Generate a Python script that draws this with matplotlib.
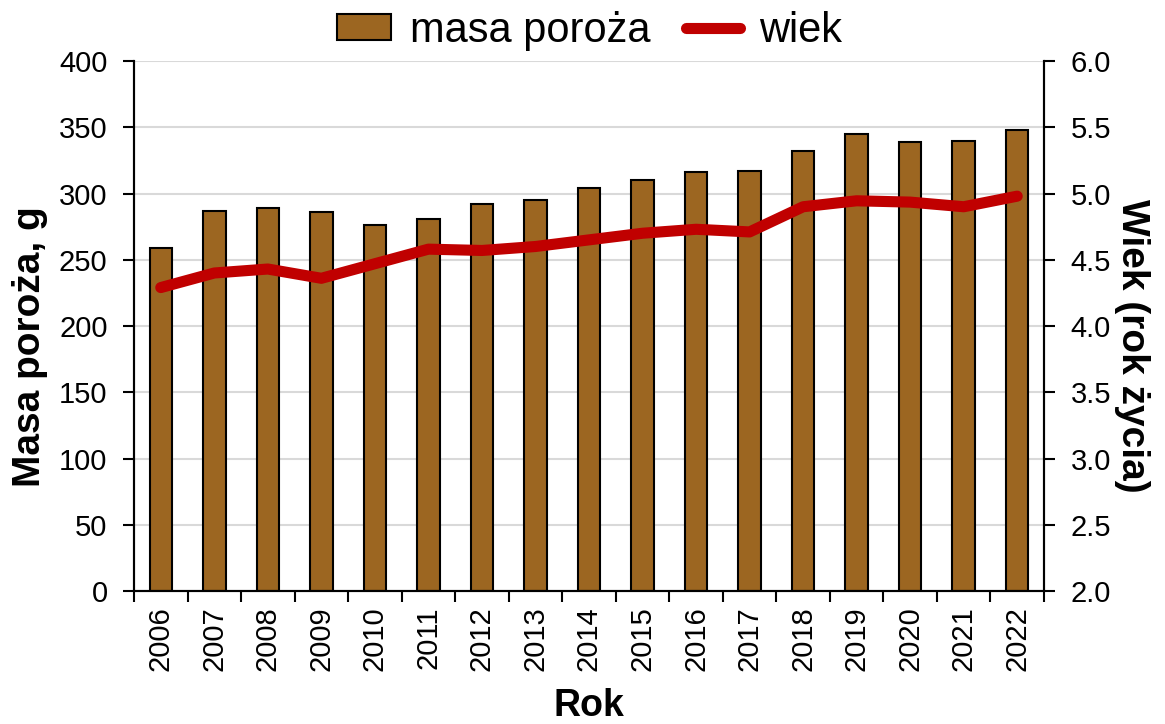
import matplotlib
matplotlib.use("Agg")
import matplotlib.pyplot as plt
import numpy as np

plt.rcParams['font.family'] = ['Liberation Sans', 'DejaVu Sans']

years = ['2006', '2007', '2008', '2009', '2010', '2011', '2012', '2013', '2014',
         '2015', '2016', '2017', '2018', '2019', '2020', '2021', '2022']
masa = [259, 287, 289, 286, 276, 281, 292, 295, 304, 310, 316, 317, 332, 345, 339, 340, 348]
wiek = [4.29, 4.40, 4.43, 4.36, 4.47, 4.58, 4.57, 4.60, 4.65, 4.70, 4.73, 4.71, 4.90, 4.945, 4.935, 4.90, 4.98]

bar_color = '#9C6621'
line_color = '#C00000'

fig = plt.figure(figsize=(11.65, 7.24), dpi=100)
ax = fig.add_axes([134/1165, 1 - 591/724, (1044-134)/1165, (591-61)/724])
x = np.arange(len(years))

ax.set_axisbelow(True)
ax.yaxis.grid(True, color='#D9D9D9', linewidth=1.5)
b = ax.bar(x, masa, width=0.42, color=bar_color, edgecolor='black', linewidth=1.5, label='masa poroża', zorder=2)
ax.set_xlim(-0.5, len(years) - 0.5)
ax.set_ylim(0, 400)
ax.set_yticks(range(0, 401, 50))
ax.set_xticks(x)
ax.set_xticklabels(years, rotation=90)
ax.set_xticks(np.arange(-0.5, len(years), 1), minor=True)
ax.tick_params(axis='x', which='major', length=0, labelsize=21, pad=11)
ax.tick_params(axis='x', which='minor', length=8, width=1.5, direction='out')
ax.tick_params(axis='y', labelsize=21, length=8, width=1.5, direction='out', pad=11)
ax.spines['top'].set_visible(False)
for s in ['left', 'bottom', 'right']:
    ax.spines[s].set_linewidth(1.5)
ax.set_ylabel('Masa poroża, g', fontsize=28, fontweight='bold', labelpad=8, y=0.462)
ax.set_xlabel('Rok', fontsize=27, fontweight='bold', labelpad=12)

ax2 = ax.twinx()
l, = ax2.plot(x, wiek, color=line_color, linewidth=8, solid_capstyle='round',
              solid_joinstyle='round', label='wiek', zorder=3)
ax2.set_ylim(2.0, 6.0)
ax2.set_yticks(np.arange(2.0, 6.01, 0.5))
ax2.set_yticklabels([f'{v:.1f}' for v in np.arange(2.0, 6.01, 0.5)])
ax2.tick_params(axis='y', labelsize=21, length=8, width=1.5, direction='out', pad=11)
ax2.spines['top'].set_visible(False)
for s in ['left', 'bottom', 'right']:
    ax2.spines[s].set_linewidth(1.5)
ax2.set_ylabel('Wiek (rok życia)', fontsize=28, fontweight='bold', rotation=270,
               labelpad=28, y=0.462)

fig.legend(handles=[b, l], labels=['masa poroża', 'wiek'], loc='center',
           bbox_to_anchor=(0.5 + 7/1165, 1 - 31/724), ncol=2, frameon=False, fontsize=30,
           handlelength=1.3, handleheight=0.58, columnspacing=0.85, handletextpad=0.45,
           borderpad=0, borderaxespad=0)

fig.savefig('out.png', dpi=100)
